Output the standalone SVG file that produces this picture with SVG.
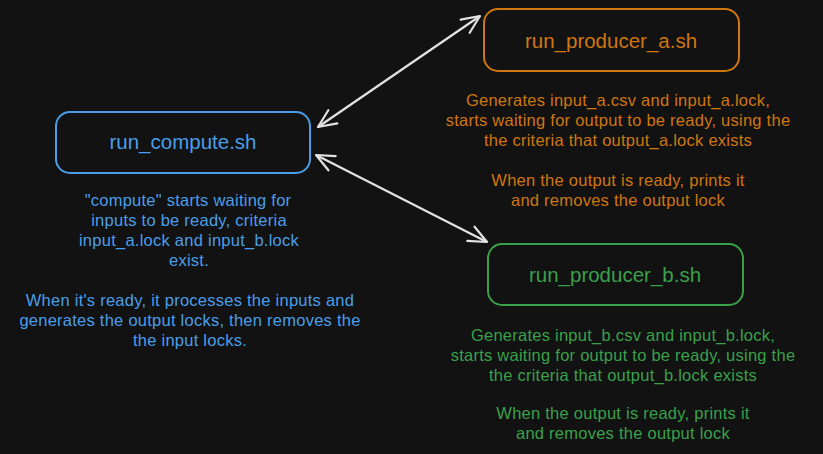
<svg xmlns="http://www.w3.org/2000/svg" width="823" height="454" viewBox="0 0 823 454">
<style>
.bg{fill:#121212}
.box{fill:none;stroke-width:2}
.t{font-family:"Liberation Sans",Arial,sans-serif;text-anchor:middle}
.title{font-size:20.5px}
.desc{font-size:16.5px;letter-spacing:0.25px}
.blue{fill:#4a9ee8}
.orange{fill:#cf760f}
.green{fill:#3aa04a}
.conn{stroke:#e2e2e2;stroke-width:2.2;fill:none}
</style>
<defs>
<marker id="ah" viewBox="0 0 24 24" refX="21" refY="12" markerWidth="24" markerHeight="24" markerUnits="userSpaceOnUse" orient="auto-start-reverse">
<path d="M3,4 L21,12 L3,20" fill="none" stroke="#e2e2e2" stroke-width="2.2" stroke-linecap="round" stroke-linejoin="round"/>
</marker>
</defs>
<rect class="bg" x="0" y="0" width="823" height="454"/>
<g id="connectors">
<line class="conn" x1="318" y1="127" x2="480" y2="16" marker-start="url(#ah)" marker-end="url(#ah)"/>
<line class="conn" x1="316" y1="155" x2="487" y2="242" marker-start="url(#ah)" marker-end="url(#ah)"/>
</g>
<g id="compute">
<rect class="box" x="56" y="112" width="254" height="61" rx="14" stroke="#4a9ee8"/>
<text class="t title blue" x="183" y="149">run_compute.sh</text>
<text class="t desc blue" x="188" y="206">"compute" starts waiting for</text>
<text class="t desc blue" x="189" y="226">inputs to be ready, criteria</text>
<text class="t desc blue" x="189" y="246">input_a.lock and input_b.lock</text>
<text class="t desc blue" x="189" y="266">exist.</text>
<text class="t desc blue" x="190" y="306">When it's ready, it processes the inputs and</text>
<text class="t desc blue" x="190" y="326">generates the output locks, then removes the</text>
<text class="t desc blue" x="190" y="346">the input locks.</text>
</g>
<g id="producer_a">
<rect class="box" x="484" y="9" width="255" height="62" rx="14" stroke="#cf760f"/>
<text class="t title orange" x="611" y="48">run_producer_a.sh</text>
<text class="t desc orange" x="618" y="106">Generates input_a.csv and input_a.lock,</text>
<text class="t desc orange" x="618" y="126">starts waiting for output to be ready, using the</text>
<text class="t desc orange" x="618" y="146">the criteria that output_a.lock exists</text>
<text class="t desc orange" x="618" y="186">When the output is ready, prints it</text>
<text class="t desc orange" x="618" y="206">and removes the output lock</text>
</g>
<g id="producer_b">
<rect class="box" x="488" y="244" width="255" height="61" rx="14" stroke="#3aa04a"/>
<text class="t title green" x="615" y="282">run_producer_b.sh</text>
<text class="t desc green" x="623" y="341">Generates input_b.csv and input_b.lock,</text>
<text class="t desc green" x="623" y="361">starts waiting for output to be ready, using the</text>
<text class="t desc green" x="623" y="381">the criteria that output_b.lock exists</text>
<text class="t desc green" x="623" y="419">When the output is ready, prints it</text>
<text class="t desc green" x="623" y="439">and removes the output lock</text>
</g>
</svg>
